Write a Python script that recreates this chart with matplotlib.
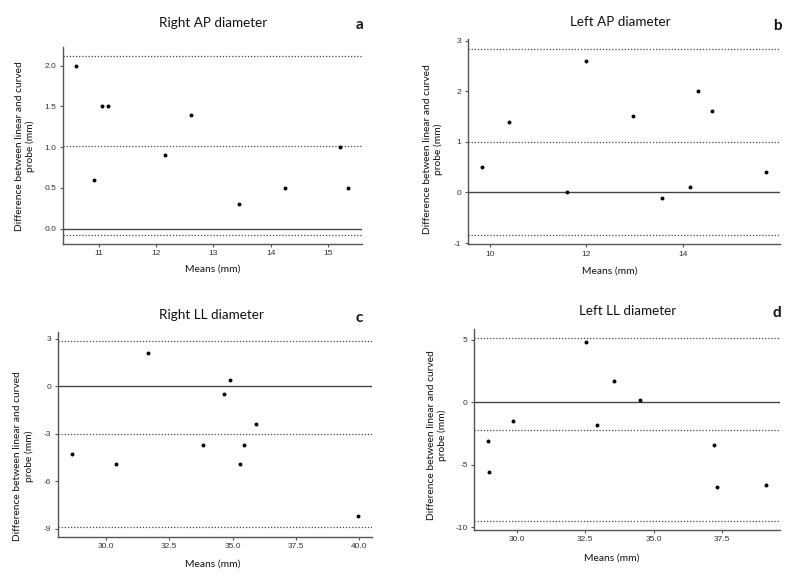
import matplotlib
matplotlib.use("Agg")
import matplotlib.pyplot as plt

# ---- data ----
titles = ["Right AP diameter", "Left AP diameter", "Right LL diameter", "Left LL diameter"]
letters = ["a", "b", "c", "d"]

a_means = [10.61, 10.91, 11.06, 11.16, 12.15, 12.60, 13.45, 14.25, 15.20, 15.35]
a_diffs = [2.0, 0.6, 1.5, 1.5, 0.9, 1.4, 0.3, 0.5, 1.0, 0.5]
a_loa = [2.12, 1.02, -0.08]          # upper LoA, mean bias, lower LoA
a_xticks = [11, 12, 13, 14, 15]
a_xticklabels = ["11", "12", "13", "14", "15"]
a_yticks = [0.0, 0.5, 1.0, 1.5, 2.0]
a_yticklabels = ["0.0", "0.5", "1.0", "1.5", "2.0"]

b_means = [9.84, 10.40, 11.61, 12.00, 12.97, 13.56, 14.15, 14.32, 14.61, 15.72]
b_diffs = [0.5, 1.4, 0.0, 2.6, 1.5, -0.1, 0.1, 2.0, 1.6, 0.4]
b_loa = [2.84, 1.00, -0.84]
b_xticks = [10, 12, 14]
b_xticklabels = ["10", "12", "14"]
b_yticks = [-1, 0, 1, 2, 3]
b_yticklabels = ["-1", "0", "1", "2", "3"]

c_means = [28.65, 30.40, 31.65, 33.85, 34.65, 34.90, 35.29, 35.45, 35.91, 39.96]
c_diffs = [-4.3, -4.9, 2.1, -3.7, -0.5, 0.4, -4.9, -3.7, -2.4, -8.2]
c_loa = [2.86, -3.04, -8.92]
c_xticks = [30.0, 32.5, 35.0, 37.5, 40.0]
c_xticklabels = ["30.0", "32.5", "35.0", "37.5", "40.0"]
c_yticks = [-9, -6, -3, 0, 3]
c_yticklabels = ["-9", "-6", "-3", "0", "3"]

d_means = [28.95, 29.00, 29.85, 32.52, 32.92, 33.56, 34.51, 37.21, 37.32, 39.11]
d_diffs = [-3.1, -5.6, -1.5, 4.8, -1.8, 1.7, 0.2, -3.4, -6.8, -6.6]
d_loa = [5.10, -2.23, -9.50]
d_xticks = [30.0, 32.5, 35.0, 37.5]
d_xticklabels = ["30.0", "32.5", "35.0", "37.5"]
d_yticks = [-10, -5, 0, 5]
d_yticklabels = ["-10", "-5", "0", "5"]

ylabel_text = "Difference between linear and curved\nprobe (mm)"
xlabel_text = "Means (mm)"

# ---- layout (pixel boxes: left, right, top, bottom) ----
W, H = 800, 581
boxes = [(62.7, 362, 47, 244), (467.7, 780, 39.3, 244.3),
         (57.7, 372.3, 331.7, 536.7), (474, 780, 329.3, 530)]
title_pos = [(213, 23), (620, 22), (211, 315), (628, 311)]
letter_pos = [(359, 25), (777, 26), (359, 318), (777, 313)]
ylab_pos = [(25, 146), (433, 149), (23.5, 456), (437, 435)]
xlab_pos = [(213, 269), (610, 271), (213, 564), (612, 558)]

panels = [
    (a_means, a_diffs, a_loa, a_xticks, a_xticklabels, a_yticks, a_yticklabels),
    (b_means, b_diffs, b_loa, b_xticks, b_xticklabels, b_yticks, b_yticklabels),
    (c_means, c_diffs, c_loa, c_xticks, c_xticklabels, c_yticks, c_yticklabels),
    (d_means, d_diffs, d_loa, d_xticks, d_xticklabels, d_yticks, d_yticklabels),
]

label_font = ["Lato", "DejaVu Sans"]
tick_font = ["Liberation Sans", "DejaVu Sans"]
axis_grey = "#555555"

fig = plt.figure(figsize=(W / 100, H / 100), dpi=100)
fig.patch.set_facecolor("white")

for i, (mx, dy, loa, xt, xtl, yt, ytl) in enumerate(panels):
    l, r, t, b = boxes[i]
    ax = fig.add_axes([l / W, 1 - b / H, (r - l) / W, (b - t) / H])
    ax.scatter(mx, dy, s=8, color="black", zorder=3, linewidths=0)
    ax.axhline(0, color="#444444", lw=1.0, zorder=1)
    for v in loa:
        ax.axhline(v, color="#444444", lw=0.9, linestyle=(0, (1.0, 1.5)), zorder=1)

    # ggplot-style 5% expansion
    xlo, xhi = min(mx), max(mx)
    ylo, yhi = min(min(dy), min(loa)), max(max(dy), max(loa))
    xpad, ypad = 0.05 * (xhi - xlo), 0.05 * (yhi - ylo)
    ax.set_xlim(xlo - xpad, xhi + xpad)
    ax.set_ylim(ylo - ypad, yhi + ypad)

    ax.set_xticks(xt)
    ax.set_xticklabels(xtl)
    ax.set_yticks(yt)
    ax.set_yticklabels(ytl)
    for lab in ax.get_xticklabels() + ax.get_yticklabels():
        lab.set_family(tick_font)
        lab.set_fontsize(6)
        lab.set_color("#333333")
    ax.tick_params(axis="both", length=2.5, width=0.8, color=axis_grey, pad=2)

    for s in ["top", "right"]:
        ax.spines[s].set_visible(False)
    for s in ["left", "bottom"]:
        ax.spines[s].set_color(axis_grey)
        ax.spines[s].set_linewidth(1.0)

    yx, yy = ylab_pos[i]
    ax.set_ylabel(ylabel_text, family=label_font, fontsize=7.4, color="#111111",
                  va="center", ha="center", linespacing=1.25)
    ax.yaxis.set_label_coords((yx - l) / (r - l), (b - yy) / (b - t))
    xx, xy = xlab_pos[i]
    ax.set_xlabel(xlabel_text, family=label_font, fontsize=7.4, color="#111111",
                  va="center", ha="center")
    ax.xaxis.set_label_coords((xx - l) / (r - l), (b - xy) / (b - t))

    tx, ty = title_pos[i]
    fig.text(tx / W, 1 - ty / H, titles[i], family=label_font, fontsize=9.7,
             ha="center", va="center", color="#111111")
    lx, ly = letter_pos[i]
    fig.text(lx / W, 1 - ly / H, letters[i], family=label_font, fontsize=11,
             fontweight="bold", ha="center", va="center", color="#111111")

fig.savefig("out.png", dpi=100, facecolor="white")
